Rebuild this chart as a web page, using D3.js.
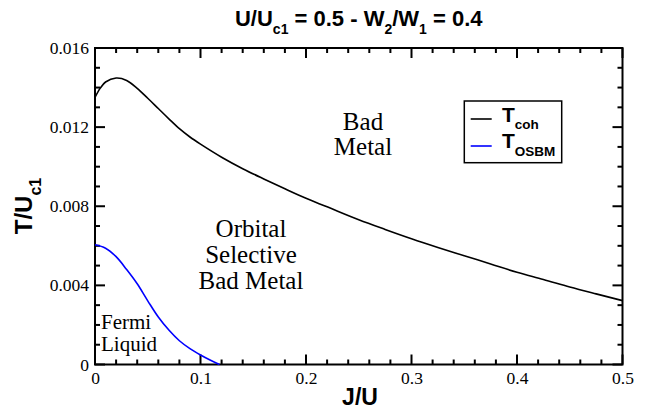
<!DOCTYPE html>
<html>
<head>
<meta charset="utf-8">
<script src="https://cdn.jsdelivr.net/npm/d3@7"></script>
<style>
  html, body { margin: 0; padding: 0; background: #fff; }
  svg { display: block; }
</style>
</head>
<body>
<svg id="chart" width="647" height="411"></svg>
<script>
// ---- data ----
const cohJ = [0, 0.005, 0.01, 0.02, 0.03, 0.04, 0.05, 0.06, 0.07, 0.08, 0.09, 0.10, 0.12, 0.14, 0.16, 0.18, 0.20, 0.22, 0.25, 0.275, 0.30, 0.325, 0.35, 0.375, 0.40, 0.425, 0.45, 0.475, 0.50];
const cohT = [0.01350, 0.01397, 0.01428, 0.01448, 0.01436, 0.01396, 0.01346, 0.01294, 0.01242, 0.01192, 0.01150, 0.01114, 0.01048, 0.00990, 0.00938, 0.00888, 0.00840, 0.00797, 0.00732, 0.00683, 0.00636, 0.00592, 0.00550, 0.00508, 0.00466, 0.00430, 0.00392, 0.00357, 0.00323];
const osbmJ = [0, 0.01, 0.02, 0.03, 0.04, 0.05, 0.06, 0.07, 0.08, 0.09, 0.10, 0.11, 0.118];
const osbmT = [0.00605, 0.00588, 0.00545, 0.00480, 0.00408, 0.00322, 0.00240, 0.00174, 0.00120, 0.00080, 0.00048, 0.00020, 0.0];
const xMajor = [0, 0.1, 0.2, 0.3, 0.4, 0.5];
const xMajorLabels = ["0", "0.1", "0.2", "0.3", "0.4", "0.5"];
const yMajor = [0, 0.004, 0.008, 0.012, 0.016];
const yMajorLabels = ["0", "0.004", "0.008", "0.012", "0.016"];
const xMinorStep = 0.02;
const yMinorStep = 0.001;

// ---- layout ----
const L = 95, R = 622.5, T = 48, B = 364.5;
const svg = d3.select("#chart");
const x = d3.scaleLinear().domain([0, 0.5]).range([L, R]);
const y = d3.scaleLinear().domain([0, 0.016]).range([B, T]);

const xMinor = d3.range(0, 0.5 + 1e-9, xMinorStep).filter(v => !xMajor.some(m => Math.abs(m - v) < 1e-9));
const yMinor = d3.range(0, 0.016 + 1e-9, yMinorStep).filter(v => !yMajor.some(m => Math.abs(m - v) < 1e-9));

const serif = "'Liberation Serif', 'Times New Roman', serif";
const sans = "'Liberation Sans', Arial, Helvetica, sans-serif";

// tick labels through d3 axes
function labelStyle(g) {
  g.attr("font-family", serif).attr("font-size", 17.5);
  g.select(".domain").remove();
  g.selectAll(".tick line").remove();
  g.selectAll(".tick text").attr("fill", "#000").style("font-family", serif).style("font-size", "17.5px");
}
svg.append("g").attr("transform", `translate(0,${B})`)
  .call(d3.axisBottom(x).tickValues(xMajor).tickFormat((d, i) => xMajorLabels[i]).tickSize(0).tickPadding(7))
  .call(labelStyle);
svg.append("g").attr("transform", `translate(${L},0)`)
  .call(d3.axisLeft(y).tickValues(yMajor).tickFormat((d, i) => yMajorLabels[i]).tickSize(0).tickPadding(6))
  .call(labelStyle);

// inward ticks on all four sides
const tickG = svg.append("g").attr("stroke", "#000").attr("stroke-width", 2);
function xTicks(vals, len) {
  tickG.selectAll(null).data(vals).join("line")
    .attr("x1", d => x(d)).attr("x2", d => x(d)).attr("y1", B).attr("y2", B - len);
  tickG.selectAll(null).data(vals).join("line")
    .attr("x1", d => x(d)).attr("x2", d => x(d)).attr("y1", T).attr("y2", T + len);
}
function yTicks(vals, len) {
  tickG.selectAll(null).data(vals).join("line")
    .attr("y1", d => y(d)).attr("y2", d => y(d)).attr("x1", L).attr("x2", L + len);
  tickG.selectAll(null).data(vals).join("line")
    .attr("y1", d => y(d)).attr("y2", d => y(d)).attr("x1", R).attr("x2", R - len);
}
xTicks(xMajor, 10); xTicks(xMinor, 5);
yTicks(yMajor, 10); yTicks(yMinor, 5);

// frame
svg.append("rect").attr("x", L).attr("y", T).attr("width", R - L).attr("height", B - T)
  .attr("fill", "none").attr("stroke", "#000").attr("stroke-width", 2);

// curves
const line = d3.line().x(d => x(d[0])).y(d => y(d[1])).curve(d3.curveCatmullRom.alpha(0.5));
svg.append("path").datum(cohJ.map((j, i) => [j, cohT[i]]))
  .attr("d", line).attr("fill", "none").attr("stroke", "#000").attr("stroke-width", 1.6);
svg.append("path").datum(osbmJ.map((j, i) => [j, osbmT[i]]))
  .attr("d", line).attr("fill", "none").attr("stroke", "#0000ff").attr("stroke-width", 1.6);

// title
const title = svg.append("text").attr("x", (L + R) / 2).attr("y", 26).attr("text-anchor", "middle")
  .style("font-family", sans).style("font-weight", "bold").style("font-size", "22px");
title.append("tspan").text("U/U");
title.append("tspan").attr("dy", 7.5).style("font-size", "14px").text("c1");
title.append("tspan").attr("dy", -7.5).text(" = 0.5 - W");
title.append("tspan").attr("dy", 7.5).style("font-size", "14px").text("2");
title.append("tspan").attr("dy", -7.5).text("/W");
title.append("tspan").attr("dy", 7.5).style("font-size", "14px").text("1");
title.append("tspan").attr("dy", -7.5).text(" = 0.4");

// x label
svg.append("text").attr("x", 360).attr("y", 405).attr("text-anchor", "middle")
  .style("font-family", sans).style("font-weight", "bold").style("font-size", "23px").text("J/U");

// y label
const yl = svg.append("text").attr("transform", "translate(32,206) rotate(-90)").attr("text-anchor", "middle")
  .style("font-family", sans).style("font-weight", "bold").style("font-size", "24px");
yl.append("tspan").text("T/U");
yl.append("tspan").attr("dy", 9).style("font-size", "16px").text("c1");

// annotations
function multiline(lines, cx, y0, dy, size, anchor) {
  lines.forEach((s, i) => svg.append("text").attr("text-anchor", anchor)
    .attr("x", cx).attr("y", y0 + i * dy)
    .style("font-family", serif).style("font-size", size + "px").attr("fill", "#000").text(s));
}
multiline(["Bad", "Metal"], 363, 130, 25, 25, "middle");
multiline(["Orbital", "Selective", "Bad Metal"], 251, 237, 26, 25, "middle");
multiline(["Fermi", "Liquid"], 101, 329, 22, 21, "start");

// legend
svg.append("rect").attr("x", 464.3).attr("y", 101).attr("width", 97.4).attr("height", 61.7)
  .attr("fill", "#fff").attr("stroke", "#000").attr("stroke-width", 1.5);
const legend = [["coh", "#000", 119, 121.7], ["OSBM", "#0000ff", 146, 148.3]];
legend.forEach(([sub, col, ly, tb]) => {
  svg.append("line").attr("x1", 470.7).attr("x2", 491.7).attr("y1", ly).attr("y2", ly)
    .attr("stroke", col).attr("stroke-width", 1.6);
  const t = svg.append("text").attr("x", 502).attr("y", tb)
    .style("font-family", sans).style("font-weight", "bold").style("font-size", "21px");
  t.append("tspan").text("T");
  t.append("tspan").attr("dy", 7.5).style("font-size", "13.5px").text(sub);
});
</script>
</body>
</html>
